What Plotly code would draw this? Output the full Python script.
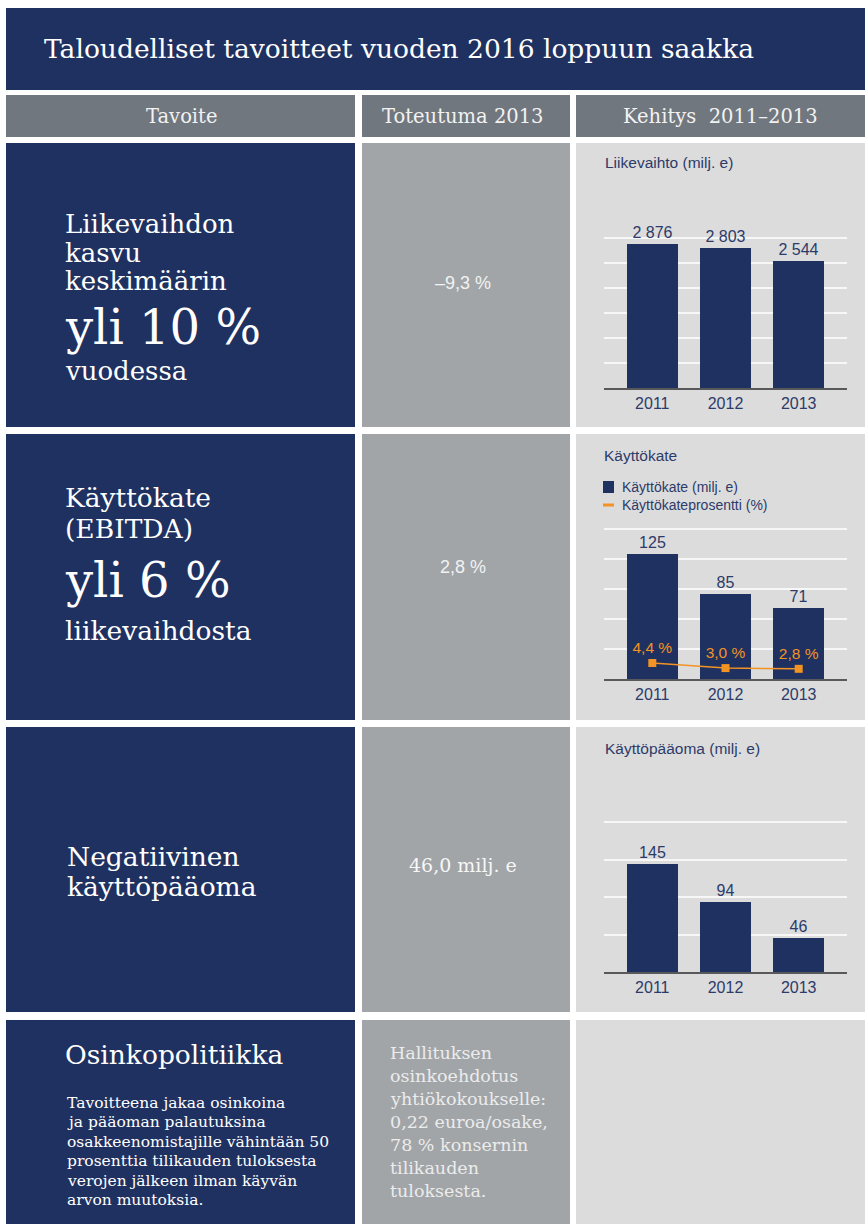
import plotly.graph_objects as go

# ---------------- data ----------------
years = ["2011", "2012", "2013"]
liikevaihto = [2876, 2803, 2544]          # milj. e
kayttokate = [125, 85, 71]                # milj. e
kayttokate_pct = [4.4, 3.0, 2.8]          # %
kayttopaaoma = [145, 94, 46]              # milj. e

title_text = "Taloudelliset tavoitteet vuoden 2016 loppuun saakka"
col_headers = ["Tavoite", "Toteutuma 2013", "Kehitys  2011–2013"]
toteutuma = ["–9,3 %", "2,8 %", "46,0 milj. e"]
chart_titles = ["Liikevaihto (milj. e)", "Käyttökate", "Käyttöpääoma (milj. e)"]
legend_labels = ["Käyttökate (milj. e)", "Käyttökateprosentti (%)"]

row1_lines = ["Liikevaihdon", "kasvu", "keskimäärin", "yli 10 %", "vuodessa"]
row2_lines = ["Käyttökate", "(EBITDA)", "yli 6 %", "liikevaihdosta"]
row3_lines = ["Negatiivinen", "käyttöpääoma"]
row4_title = "Osinkopolitiikka"
row4_par = ["Tavoitteena jakaa osinkoina", "ja pääoman palautuksina",
            "osakkeenomistajille vähintään 50", "prosenttia tilikauden tuloksesta",
            "verojen jälkeen ilman käyvän", "arvon muutoksia."]
row4_col2 = ["Hallituksen", "osinkoehdotus", "yhtiökokoukselle:", "0,22 euroa/osake,",
             "78 % konsernin", "tilikauden", "tuloksesta."]

# ---------------- style ----------------
W, H = 865, 1224
def X(px): return px / W
def Y(py): return 1 - py / H

NAVY = "#1f3160"
HEAD_GRAY = "#71777e"
MID_GRAY = "#a1a5a8"
LIGHT = "#dcdcdc"
TXT_NAVY = "#2c3b69"
ORANGE = "#f39323"
SERIF = "DejaVu Serif, serif"
SANS = "Arial, Liberation Sans, sans-serif"

def fmt_thousands(v):
    return f"{v:,}".replace(",", " ")

def fmt_pct(v):
    return f"{v:.1f}".replace(".", ",") + " %"

fig = go.Figure()

# chart 1
fig.add_trace(go.Bar(x=years, y=liikevaihto, xaxis="x", yaxis="y",
                     marker=dict(color=NAVY, line=dict(width=0)), width=0.7,
                     text=[fmt_thousands(v) for v in liikevaihto], textposition="outside",
                     textfont=dict(family=SANS, size=16, color=TXT_NAVY),
                     cliponaxis=False, showlegend=False))
# chart 2
fig.add_trace(go.Bar(x=years, y=kayttokate, xaxis="x2", yaxis="y2",
                     marker=dict(color=NAVY, line=dict(width=0)), width=0.7,
                     text=[str(v) for v in kayttokate], textposition="outside",
                     textfont=dict(family=SANS, size=16, color=TXT_NAVY),
                     cliponaxis=False, showlegend=False))
fig.add_trace(go.Scatter(x=years, y=kayttokate_pct, xaxis="x2", yaxis="y3",
                         mode="lines+markers+text",
                         line=dict(color=ORANGE, width=1.5),
                         marker=dict(symbol="square", size=8, color=ORANGE),
                         text=[fmt_pct(v) for v in kayttokate_pct], textposition="top center",
                         textfont=dict(family=SANS, size=15.5, color=ORANGE),
                         cliponaxis=False, showlegend=False))
# chart 3
fig.add_trace(go.Bar(x=years, y=kayttopaaoma, xaxis="x3", yaxis="y4",
                     marker=dict(color=NAVY, line=dict(width=0)), width=0.7,
                     text=[str(v) for v in kayttopaaoma], textposition="outside",
                     textfont=dict(family=SANS, size=16, color=TXT_NAVY),
                     cliponaxis=False, showlegend=False))

def xax(anchor):
    return dict(domain=[X(604), X(847)], anchor=anchor, type="category",
                range=[-0.66, 2.66], showline=True, linecolor="#58595b", linewidth=2,
                ticks="", showgrid=False, zeroline=False, fixedrange=True,
                tickfont=dict(family=SANS, size=16, color=TXT_NAVY))

def yax(anchor, top, bottom, rng, dtick):
    return dict(domain=[Y(bottom), Y(top)], anchor=anchor, range=rng, dtick=dtick, tick0=0,
                showgrid=True, gridcolor="#f7f7f7", gridwidth=1.5, showticklabels=False,
                zeroline=False, showline=False, ticks="", fixedrange=True)

shapes = []
def rect(x0, y0, x1, y1, color):
    shapes.append(dict(type="rect", xref="paper", yref="paper", x0=X(x0), x1=X(x1),
                       y0=Y(y1), y1=Y(y0), fillcolor=color, line=dict(width=0), layer="below"))

rect(6, 8, 865, 90, NAVY)
rect(6, 95, 355, 137, HEAD_GRAY)
rect(362, 95, 570, 137, HEAD_GRAY)
rect(576, 95, 865, 137, HEAD_GRAY)
for (t, b) in [(143, 427), (434, 720), (727, 1012), (1020, 1230)]:
    rect(6, t, 355, b, NAVY)
    rect(362, t, 570, b, MID_GRAY)
    rect(576, t, 865, b, LIGHT)

# legend keys (chart 2)
rect(603, 481, 614, 493, NAVY)
shapes.append(dict(type="line", xref="paper", yref="paper", x0=X(603), x1=X(614),
                   y0=Y(505), y1=Y(505), line=dict(color=ORANGE, width=3)))

annotations = []
def txt(text, x, y, size, color="white", family=SERIF, xanchor="left", bold=False):
    if bold:
        text = f"<b>{text}</b>"
    annotations.append(dict(text=text, x=X(x), y=Y(y), xref="paper", yref="paper",
                            xanchor=xanchor, yanchor="middle", showarrow=False,
                            font=dict(family=family, size=size, color=color)))

# title + headers
txt(title_text, 42, 49, 26.5)
txt(col_headers[0], 182, 117, 19.5, color="#f2f2f2", xanchor="center")
txt(col_headers[1], 463, 117, 19.5, color="#f2f2f2", xanchor="center")
txt(col_headers[2], 720, 117, 19.5, color="#f2f2f2", xanchor="center")

# row 1 left
for line, y, s in zip(row1_lines, [224, 253, 281, 327, 371], [26, 26, 26, 48, 26]):
    txt(line, 63, y, s)
# row 2 left
for line, y, s in zip(row2_lines, [497, 528, 580, 631], [26.5, 26.5, 48, 26.5]):
    txt(line, 63, y, s)
# row 3 left
for line, y in zip(row3_lines, [856, 886]):
    txt(line, 65, y, 26.5)
# row 4 left
txt(row4_title, 63, 1054, 26.5)
for i, line in enumerate(row4_par):
    txt(line, 65, 1103 + i * 19.4, 15.5)
# column 2
txt(toteutuma[0], 463, 283, 18, color="#f2f2f2", family=SANS, xanchor="center")
txt(toteutuma[1], 463, 567, 18, color="#f2f2f2", family=SANS, xanchor="center")
txt(toteutuma[2], 463, 865, 19, color="#f7f7f7", xanchor="center")
for i, line in enumerate(row4_col2):
    txt(line, 388, 1053 + i * 23, 17.5, color="#ececec")

# chart titles + legend text
txt(chart_titles[0], 603, 163, 15.5, color=TXT_NAVY, family=SANS)
txt(chart_titles[1], 602, 455, 15.5, color=TXT_NAVY, family=SANS)
txt(chart_titles[2], 603, 748, 15.5, color=TXT_NAVY, family=SANS)
txt(legend_labels[0], 620, 487, 14, color=TXT_NAVY, family=SANS)
txt(legend_labels[1], 620, 505, 14, color=TXT_NAVY, family=SANS)

fig.update_layout(
    width=W, height=H, margin=dict(l=0, r=0, t=0, b=0),
    paper_bgcolor="white", plot_bgcolor="rgba(0,0,0,0)",
    xaxis=xax("y"), yaxis=yax("x", 228, 388, [0, 3200], 500),
    xaxis2=xax("y2"), yaxis2=yax("x2", 519, 679, [0, 160], 30),
    yaxis3=dict(overlaying="y2", anchor="x2", range=[0, 44], visible=False, fixedrange=True),
    xaxis3=xax("y4"), yaxis4=yax("x3", 814.5, 972, [0, 210], 50),
    shapes=shapes, annotations=annotations, bargap=0,
)

fig.write_html("out.html", config={"displayModeBar": False},
               post_script="document.body.style.margin='0';")
